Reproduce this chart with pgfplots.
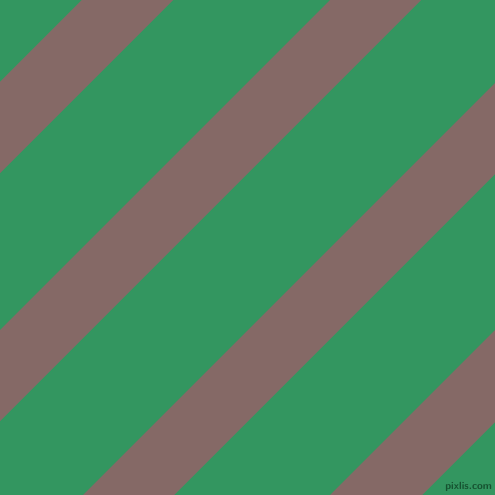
\documentclass[border=0pt]{standalone}
\usepackage{pgfplots}
\pgfplotsset{compat=1.18}
\definecolor{bggreen}{RGB}{51,150,96}
\definecolor{stripe}{RGB}{133,105,102}
\definecolor{mark}{RGB}{22,82,48}
\begin{document}
\begin{tikzpicture}
\begin{axis}[
  scale only axis,
  width=10cm, height=10cm,
  xmin=0, xmax=495, ymin=0, ymax=495,
  y dir=reverse,
  hide axis,
  clip=true]
% background
\addplot[fill=bggreen, draw=none] coordinates {(0,0) (495,0) (495,495) (0,495)} -- cycle;
% diagonal bands (image coords, x+y between the two edges)
\addplot[fill=stripe, draw=none] coordinates {(0,82) (82,0) (173,0) (0,173)} -- cycle;
\addplot[fill=stripe, draw=none] coordinates {(0,330) (330,0) (421,0) (0,421)} -- cycle;
\addplot[fill=stripe, draw=none] coordinates {(83,495) (495,83) (495,174) (174,495)} -- cycle;
\addplot[fill=stripe, draw=none] coordinates {(330,495) (495,330) (495,422) (422,495)} -- cycle;
\node[anchor=south east, inner sep=1pt, text=mark, font=\sffamily\bfseries\fontsize{6}{7}\selectfont]
  at (axis cs:494,494) {pixlis.com};
\end{axis}
\end{tikzpicture}
\end{document}
